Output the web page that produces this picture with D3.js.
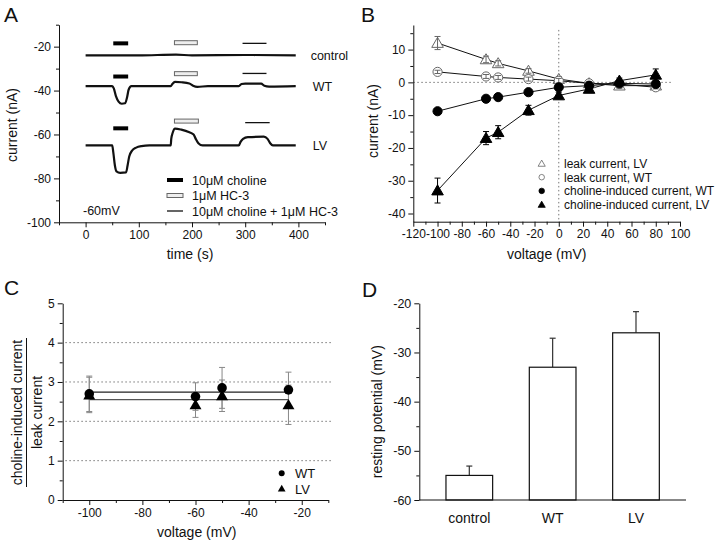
<!DOCTYPE html>
<html>
<head>
<meta charset="utf-8">
<script src="https://cdn.jsdelivr.net/npm/d3@7"></script>
<style>
  body { margin: 0; background: #fff; }
  svg { font-family: "Liberation Sans", Arial, sans-serif; }
</style>
</head>
<body>
<div id="fig"></div>
<script>
// ---- panel A : current traces (time s, current nA)
var traceControl = [[0,-24],[100,-24],[170,-23.6],[200,-24],[300,-23.8],[395,-24]]
var traceWT = [[0,-38],[50,-38],[53,-39],[57,-42.5],[62,-45],[68,-46],[74,-45.8],[78,-43],[81,-39.5],[86,-38],
               [160,-38],[163,-37],[168,-36],[180,-36.2],[195,-36.8],[202,-37.8],[210,-38.3],[230,-38],
               [288,-38],[293,-37],[300,-36.8],[330,-36.8],[336,-37.8],[345,-38.2],[395,-38]]
var traceLV = [[0,-65],[50,-65],[52,-68],[55,-74],[58,-76.8],[65,-77.5],[76,-77.3],[79,-74],[82,-70],[87,-67.5],
               [95,-66],[105,-65.3],[120,-65],[160,-65],[161,-62],[164,-59],[168,-57.3],[180,-57.8],
               [195,-59],[203,-60],[207,-62],[212,-64],[220,-65],[288,-65],[291,-63.5],[296,-62],[305,-61.2],
               [335,-61],[342,-62],[347,-64],[352,-65],[395,-65]]
var traceNames = ["control", "WT", "LV"]
var traceLabelY = [-24, -38, -65]
// application bars: [trace, kind, start s, end s, level nA]
var stimBars = [
  [0, "choline", 52, 80, -18.5], [0, "hc3", 167, 210, -18.2], [0, "both", 295, 340, -18.5],
  [1, "choline", 52, 80, -33.6], [1, "hc3", 167, 210, -32.3], [1, "both", 295, 340, -32.2],
  [2, "choline", 52, 80, -57.2], [2, "hc3", 167, 212, -53.9], [2, "both", 300, 346, -54.6]
]
var stimLegend = ["10\u03bcM choline", "1\u03bcM HC-3", "10\u03bcM choline + 1\u03bcM HC-3"]

// ---- panel B : I-V curves
var voltB = [-100, -60, -50, -25, 0, 25, 50, 80]
var leakLV = [12, 7, 5.8, 3.5, 1, -0.3, -1, -1]
var leakLVErr = [2, 1, 0.8, 0.7, 0.8, 0.5, 0.8, 0.6]
var leakWT = [3.2, 1.8, 1.5, 1, 0.5, -0.3, -0.5, -1.5]
var leakWTErr = [0.5, 0.6, 0.6, 0.6, 0.7, 0.4, 0.5, 0.5]
var cholWT = [-8.8, -5, -4.5, -3, -1.5, -1, -0.3, -0.5]
var cholWTErr = [0.6, 0.5, 0.5, 0.5, 0.5, 0.5, 0.5, 0.5]
var cholLV = [-33, -17, -15.2, -8.5, -4, -2, 0.5, 2.3]
var cholLVErr = [3.8, 2, 2, 1.5, 1, 0.8, 0.8, 1.8]
var legendB = ["leak current, LV", "leak current, WT", "choline-induced current, WT", "choline-induced current, LV"]

// ---- panel C : ratio
var voltC = [-100, -60, -50, -25]
var ratioWT = [2.7, 2.63, 2.85, 2.8]
var ratioWTErr = [0.45, 0.35, 0.52, 0.45]
var ratioLV = [2.67, 2.42, 2.65, 2.42]
var ratioLVErr = [0.45, 0.32, 0.4, 0.5]
var meanWT = 2.74, meanLV = 2.55

// ---- panel D : resting potential
var groupsD = ["control", "WT", "LV"]
var restD = [-55, -33, -26]
var restErrD = [1.9, 5.9, 4.3]

var svg = d3.select("#fig").append("svg").attr("width", 720).attr("height", 544)
var fmt = function(d) { return String(d) }

function axis(g, kind, scale, major, minor, opts) {
  opts = opts || {}
  var mk = kind == "left" ? d3.axisLeft : d3.axisBottom
  var a = g.append("g").attr("transform", opts.t || "")
  a.call(mk(scale).tickValues(major).tickSize(5).tickSizeOuter(0).tickPadding(3).tickFormat(fmt))
  a.append("g").call(mk(scale).tickValues(minor).tickSize(3).tickFormat(""))
      .select(".domain").remove()
  a.selectAll("text").attr("font-size", opts.fs || 12).attr("fill", "#111")
      .attr("font-family", "Liberation Sans, Arial, sans-serif")
  a.selectAll("line,path").attr("stroke", "#111")
  return a
}
function range(a, b, s) { return d3.range(a, b + s / 2, s) }

function panelLabel(t, x, y) {
  svg.append("text").attr("x", x).attr("y", y).attr("font-size", 21).attr("fill", "#111").text(t)
}
function title(t, x, y, rot) {
  svg.append("text").attr("text-anchor", "middle").attr("font-size", 14).attr("fill", "#111")
     .attr("transform", "translate(" + x + "," + y + ")" + (rot ? " rotate(-90)" : "")).text(t)
}
function errBars(g, xs, ys, es, x, y, col, cap) {
  xs.forEach(function(v, i) {
    var e = g.append("g").attr("stroke", col).attr("stroke-width", 1)
    e.append("line").attr("x1", x(v)).attr("x2", x(v)).attr("y1", y(ys[i] - es[i])).attr("y2", y(ys[i] + es[i]))
    e.append("line").attr("x1", x(v) - cap).attr("x2", x(v) + cap).attr("y1", y(ys[i] + es[i])).attr("y2", y(ys[i] + es[i]))
    e.append("line").attr("x1", x(v) - cap).attr("x2", x(v) + cap).attr("y1", y(ys[i] - es[i])).attr("y2", y(ys[i] - es[i]))
  })
}
var triSym = function(s) { return d3.symbol().type(d3.symbolTriangle).size(s)() }
var cirSym = function(s) { return d3.symbol().type(d3.symbolCircle).size(s)() }

// =============== A
var xA = d3.scaleLinear().domain([-50, 450]).range([59, 325])
var yA = d3.scaleLinear().domain([-100, -10]).range([222.3, 24.7])
var gA = svg.append("g")
axis(gA, "left", yA, range(-100, -20, 20), range(-90, -10, 20), {t: "translate(59,0)"})
axis(gA, "bottom", xA, range(0, 400, 100), [-50, 50, 150, 250, 350, 450], {t: "translate(0,222.3)"})
var lineA = d3.line().x(function(d) { return xA(d[0]) }).y(function(d) { return yA(d[1]) }).curve(d3.curveMonotoneX)
var labelX = [423, 427, 427]
;[traceControl, traceWT, traceLV].forEach(function(tr, i) {
  gA.append("path").attr("d", lineA(tr)).attr("fill", "none").attr("stroke", "#111").attr("stroke-width", 2.2)
  gA.append("text").attr("x", xA(labelX[i])).attr("y", yA(traceLabelY[i]) + 4.5).attr("font-size", 12.5)
    .attr("fill", "#111").text(traceNames[i])
})
function stim(g, kind, x0, x1, y) {
  if (kind == "choline") g.append("line").attr("x1", x0).attr("x2", x1).attr("y1", y).attr("y2", y)
      .attr("stroke", "#000").attr("stroke-width", 4)
  else if (kind == "hc3") g.append("rect").attr("x", x0).attr("y", y - 2).attr("width", x1 - x0).attr("height", 4)
      .attr("fill", "#eee").attr("stroke", "#666").attr("stroke-width", 1)
  else g.append("line").attr("x1", x0).attr("x2", x1).attr("y1", y).attr("y2", y)
      .attr("stroke", "#111").attr("stroke-width", 1.3)
}
stimBars.forEach(function(b) { stim(gA, b[1], xA(b[2]), xA(b[3]), yA(b[4])) })
;["choline", "hc3", "both"].forEach(function(k, i) {
  var y = 180 + i * 15.5
  stim(gA, k, 167, 183, y)
  gA.append("text").attr("x", 192).attr("y", y + 4.5).attr("font-size", 12.5).attr("fill", "#111").text(stimLegend[i])
})
gA.append("text").attr("x", 83).attr("y", 214.5).attr("font-size", 12.5).attr("fill", "#111").text("-60mV")
panelLabel("A", 4, 22)
title("time (s)", 190, 259)
title("current (nA)", 17, 125, true)

// =============== B
var xB = d3.scaleLinear().domain([-120, 100]).range([413.3, 680])
var yB = d3.scaleLinear().domain([-42.5, 17.5]).range([221.7, 25])
var gB = svg.append("g")
gB.append("line").attr("x1", xB(-120)).attr("x2", xB(93)).attr("y1", yB(0)).attr("y2", yB(0))
  .attr("stroke", "#777").attr("stroke-dasharray", "1.5,2.5")
gB.append("line").attr("x1", xB(0)).attr("x2", xB(0)).attr("y1", yB(16)).attr("y2", yB(-42.5))
  .attr("stroke", "#777").attr("stroke-dasharray", "1.5,2.5")
axis(gB, "left", yB, range(-40, 10, 10), range(-35, 15, 10), {t: "translate(413.3,0)"})
axis(gB, "bottom", xB, range(-120, 100, 20), range(-110, 90, 20), {t: "translate(0,221.7)"})
var seriesB = [
  {v: leakLV, e: leakLVErr, sym: "tri", fill: "#fff", stroke: "#666"},
  {v: leakWT, e: leakWTErr, sym: "cir", fill: "#fff", stroke: "#666"},
  {v: cholWT, e: cholWTErr, sym: "cir", fill: "#000", stroke: "#000"},
  {v: cholLV, e: cholLVErr, sym: "tri", fill: "#000", stroke: "#000"}
]
var lineB = d3.line().x(function(d, i) { return xB(voltB[i]) }).y(function(d) { return yB(d) })
seriesB.forEach(function(s) {
  gB.append("path").attr("d", lineB(s.v)).attr("fill", "none").attr("stroke", "#111").attr("stroke-width", 1)
})
seriesB.forEach(function(s) {
  var gs = gB.append("g")
  gs.selectAll("path.m").data(s.v).enter().append("path").attr("class", "m")
    .attr("d", s.sym == "tri" ? triSym(58) : cirSym(66))
    .attr("transform", function(d, i) { return "translate(" + xB(voltB[i]) + "," + (yB(d) + (s.sym == "tri" ? 1 : 0)) + ")" })
    .attr("fill", s.fill).attr("stroke", s.stroke).attr("stroke-width", 1)
  errBars(gs, voltB, s.v, s.e, xB, yB, s.fill == "#fff" ? "#666" : "#000", 3)
})
legendB.forEach(function(t, i) {
  var s = seriesB[i], y = 163.5 + i * 13.7
  gB.append("path").attr("d", s.sym == "tri" ? triSym(22) : cirSym(24))
    .attr("transform", "translate(541.7," + (y + (s.sym == "tri" ? 0.7 : 0)) + ")")
    .attr("fill", s.fill).attr("stroke", s.stroke).attr("stroke-width", 0.8)
  gB.append("text").attr("x", 564).attr("y", y + 4.3).attr("font-size", 12).attr("fill", "#111").text(t)
})
panelLabel("B", 361, 22)
title("voltage (mV)", 546.7, 259)
title("current (nA)", 378, 121, true)

// =============== C
var xC = d3.scaleLinear().domain([-110, -10]).range([62.7, 328.3])
var yC = d3.scaleLinear().domain([0, 5]).range([500, 303.3])
var gC = svg.append("g")
range(1, 4, 1).forEach(function(v) {
  gC.append("line").attr("x1", xC(-109)).attr("x2", xC(-9)).attr("y1", yC(v)).attr("y2", yC(v))
    .attr("stroke", "#777").attr("stroke-dasharray", "1.5,2.5")
})
axis(gC, "left", yC, range(0, 5, 1), range(0.5, 4.5, 1), {t: "translate(62.7,0)"})
axis(gC, "bottom", xC, range(-100, -20, 20), range(-110, -10, 20), {t: "translate(0,500)"})
gC.append("line").attr("x1", xC(-100)).attr("x2", xC(-25)).attr("y1", yC(meanWT)).attr("y2", yC(meanWT))
  .attr("stroke", "#222").attr("stroke-width", 1.3)
gC.append("line").attr("x1", xC(-100)).attr("x2", xC(-25)).attr("y1", yC(meanLV)).attr("y2", yC(meanLV))
  .attr("stroke", "#555").attr("stroke-width", 1.3)
errBars(gC, voltC, ratioWT, ratioWTErr, xC, yC, "#888", 3)
errBars(gC, voltC, ratioLV, ratioLVErr, xC, yC, "#888", 3)
gC.selectAll("path.w").data(ratioWT).enter().append("path").attr("class", "w").attr("d", cirSym(72))
  .attr("transform", function(d, i) { return "translate(" + xC(voltC[i]) + "," + yC(d) + ")" }).attr("fill", "#000")
gC.selectAll("path.l").data(ratioLV).enter().append("path").attr("class", "l").attr("d", triSym(62))
  .attr("transform", function(d, i) { return "translate(" + xC(voltC[i]) + "," + (yC(d) + 1) + ")" }).attr("fill", "#000")
;["WT", "LV"].forEach(function(t, i) {
  var y = 473.3 + i * 16
  gC.append("path").attr("d", i == 0 ? cirSym(28) : triSym(26)).attr("transform", "translate(281.7," + y + ")").attr("fill", "#000")
  gC.append("text").attr("x", 295).attr("y", y + 5).attr("font-size", 13).attr("fill", "#111").text(t)
})
panelLabel("C", 4, 295)
title("voltage (mV)", 196.7, 537)
title("choline-induced current", 22, 412.5, true)
title("leak current", 42, 412.5, true)
gC.append("line").attr("x1", 26.5).attr("x2", 26.5).attr("y1", 338).attr("y2", 487).attr("stroke", "#111").attr("stroke-width", 1)

// =============== D
var xD = d3.scaleBand().domain(groupsD).range([419.3, 686]).paddingInner(0.44).paddingOuter(0.32)
var yD = d3.scaleLinear().domain([-60, -20]).range([500, 303.3])
var gD = svg.append("g")
gD.selectAll("line.e").data(restD).enter().append("line").attr("class", "e")
  .attr("x1", function(d, i) { return xD(groupsD[i]) + xD.bandwidth() / 2 })
  .attr("x2", function(d, i) { return xD(groupsD[i]) + xD.bandwidth() / 2 })
  .attr("y1", function(d) { return yD(d) }).attr("y2", function(d, i) { return yD(d + restErrD[i]) })
  .attr("stroke", "#333").attr("stroke-width", 1.2)
gD.selectAll("line.c").data(restD).enter().append("line").attr("class", "c")
  .attr("x1", function(d, i) { return xD(groupsD[i]) + xD.bandwidth() / 2 - 3 })
  .attr("x2", function(d, i) { return xD(groupsD[i]) + xD.bandwidth() / 2 + 3 })
  .attr("y1", function(d, i) { return yD(d + restErrD[i]) }).attr("y2", function(d, i) { return yD(d + restErrD[i]) })
  .attr("stroke", "#333").attr("stroke-width", 1.2)
gD.selectAll("rect").data(restD).enter().append("rect")
  .attr("x", function(d, i) { return xD(groupsD[i]) }).attr("width", xD.bandwidth())
  .attr("y", function(d) { return yD(d) }).attr("height", function(d) { return yD(-60) - yD(d) })
  .attr("fill", "#fff").attr("stroke", "#111").attr("stroke-width", 1.2)
axis(gD, "left", yD, range(-60, -20, 10), range(-55, -25, 10), {t: "translate(419.3,0)", fs: 12.5})
gD.append("line").attr("x1", 419.3).attr("x2", 686).attr("y1", yD(-60)).attr("y2", yD(-60)).attr("stroke", "#111")
groupsD.forEach(function(g) {
  gD.append("text").attr("x", xD(g) + xD.bandwidth() / 2).attr("y", 523).attr("text-anchor", "middle")
    .attr("font-size", 14).attr("fill", "#111").text(g)
})
panelLabel("D", 362, 297)
title("resting potential (mV)", 381.5, 411.7, true)
</script>
</body>
</html>
